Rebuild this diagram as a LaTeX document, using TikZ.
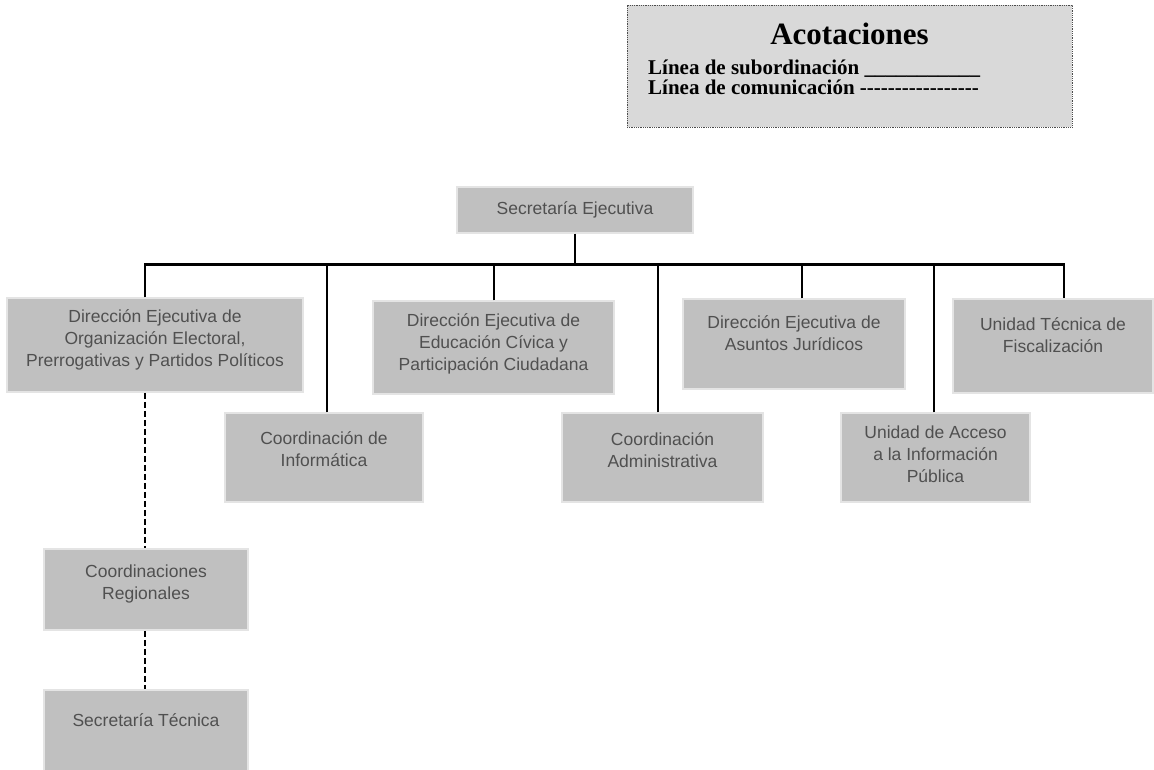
\documentclass[tikz,border=0pt]{standalone}
\usepackage{fontspec}
\setmainfont{Liberation Serif}
\setsansfont{Liberation Sans}
\usepackage{tikz}
\definecolor{unitGray}{RGB}{192,192,192}
\definecolor{unitEdge}{RGB}{228,228,228}
\definecolor{unitText}{RGB}{80,80,80}
\definecolor{keyGray}{RGB}{217,217,217}
\usetikzlibrary{positioning, calc}
% text placed at the top of a fixed box
\newcommand{\unittext}[4]{\parbox[c][#2][t]{#1}{\centering\vspace*{#3}#4}}
\newcommand{\dashrow}[1]{\foreach \i in {1,...,#1}{\mbox{-}}}

\begin{document}
\begin{tikzpicture}[
    x=1pt, y=1pt,
    unit/.style={rectangle, fill=unitGray, draw=unitEdge, line width=1.5pt, text=unitText, inner sep=0pt, font=\sffamily\fontsize{17.5}{22}\selectfont},
    subline/.style={line width=2.8pt, black},
    comline/.style={line width=2.8pt, black, dash pattern=on 6pt off 3pt},
    keybox/.style={rectangle, fill=keyGray, draw=black!70, densely dotted, line width=0.8pt, minimum width=445pt, minimum height=122pt},
    keytext/.style={font=\bfseries\fontsize{21}{20}\selectfont, inner sep=0pt, anchor=base west}
]
    \useasboundingbox (0,0) rectangle (1154,-770);
    \clip (0,0) rectangle (1154,-770);

    % Acotaciones
    \node[keybox] (acot) at (849.5,-66) {};
    \node[font=\bfseries\fontsize{31}{31}\selectfont, inner sep=0pt, anchor=base] (acottitle) at (849.5,-45) {Acotaciones};
    \node[keytext] (subkey) at (648,-75) {Línea de subordinación \_\_\_\_\_\_\_\_\_\_\_};
    \node[keytext] (comkey) at (648,-95) {Línea de comunicación \dashrow{17}};

    % Units
    \node[unit, minimum width=236pt, minimum height=46pt] (sejec) at (575,-210) {Secretaría Ejecutiva};
    \node[unit] (deoe) at (155,-345) {\unittext{296pt}{94pt}{12pt}{Dirección Ejecutiva de\\Organización Electoral,\\Prerrogativas y Partidos Políticos}};
    \node[unit] (coinf) at (324,-457.5) {\unittext{198pt}{89pt}{19pt}{Coordinación de\\Informática}};
    \node[unit] (deecyec) at (493.5,-347.5) {\unittext{241pt}{93pt}{13pt}{Dirección Ejecutiva de\\Educación Cívica y\\Participación Ciudadana}};
    \node[unit] (coadm) at (662.5,-457.5) {\unittext{201pt}{89pt}{20pt}{Coordinación\\Administrativa}};
    \node[unit] (deaj) at (794,-344) {\unittext{222pt}{90pt}{17pt}{Dirección Ejecutiva de\\Asuntos Jurídicos}};
    \node[unit] (uaip) at (935.5,-457.5) {\unittext{189pt}{89pt}{13pt}{Unidad de Acceso\\a la Información\\Pública}};
    \node[unit] (utf) at (1053,-346) {\unittext{200pt}{94pt}{19pt}{Unidad Técnica de\\Fiscalización}};
    \node[unit] (coreg) at (146,-589.5) {\unittext{204pt}{81pt}{16pt}{Coordinaciones\\Regionales}};
    \node[unit] (stec) at (146,-735) {\unittext{204pt}{90pt}{24pt}{Secretaría Técnica}};

    % Subordination lines
    \coordinate (bar) at ($(sejec.south)+(0,-31)$);
    \draw[subline] (sejec.south) -- (bar);
    \draw[subline] ([xshift=-10pt]deoe.north) -- ([xshift=-10pt]deoe.north |- bar) -- ([xshift=11pt]utf.north |- bar) -- ([xshift=11pt]utf.north);
    \foreach \n/\dx in {coinf/3, deecyec/0.5, coadm/-4.5, deaj/8, uaip/-1.5}
        \draw[subline] ([xshift=\dx pt]\n.north) -- ([xshift=\dx pt]\n.north |- bar);

    % Communication lines
    \draw[comline] ([xshift=-10pt]deoe.south) -- ([xshift=-10pt]deoe.south |- coreg.north);
    \draw[comline] ([xshift=-1pt]coreg.south) -- ([xshift=-1pt]stec.north);
\end{tikzpicture}
\end{document}
